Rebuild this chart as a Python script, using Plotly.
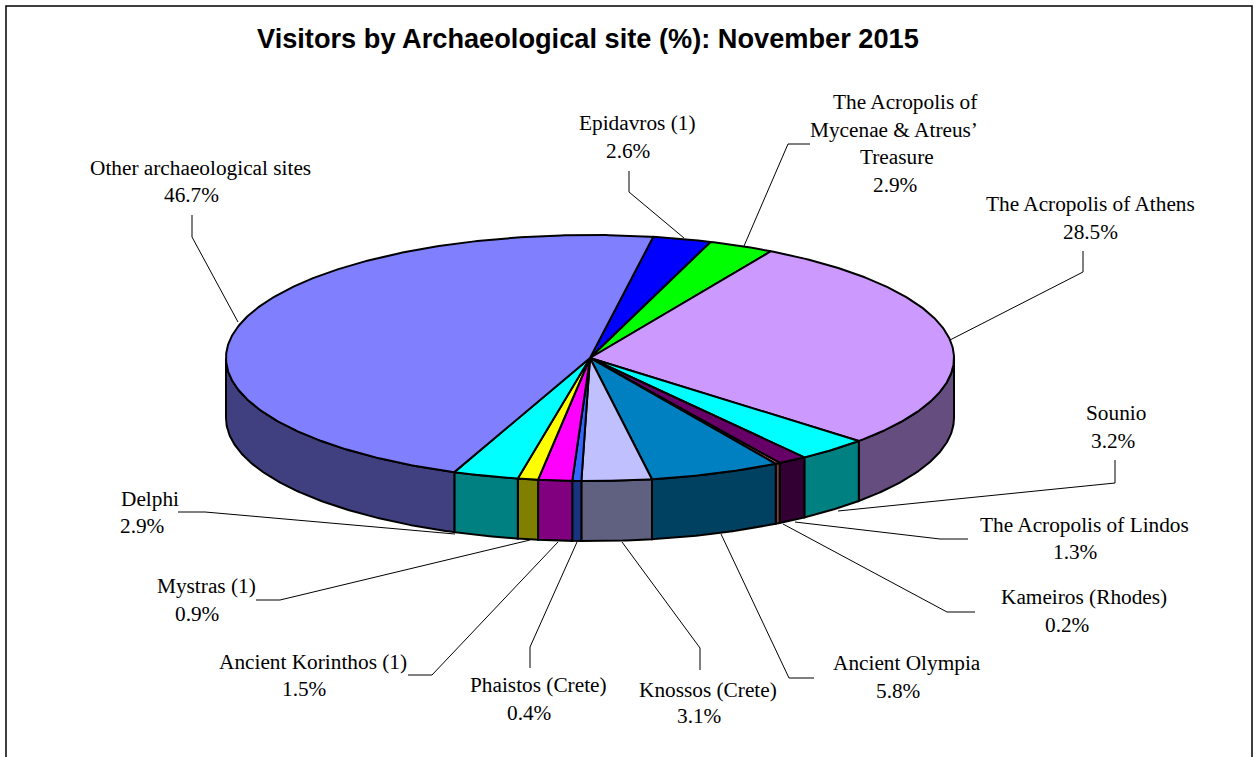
import numpy as np
import plotly.graph_objects as go

# ---- data ----
sites = ["Epidavros (1)", "The Acropolis of Mycenae & Atreus’ Treasure", "The Acropolis of Athens",
         "Sounio", "The Acropolis of Lindos", "Kameiros (Rhodes)", "Ancient Olympia",
         "Knossos (Crete)", "Phaistos (Crete)", "Ancient Korinthos (1)", "Mystras (1)",
         "Delphi", "Other archaeological sites"]
shares = [2.6, 2.9, 28.5, 3.2, 1.3, 0.2, 5.8, 3.1, 0.4, 1.5, 0.9, 2.9, 46.7]
top_colors = ["#0000FF", "#00FF00", "#CC99FF", "#00FFFF", "#660066", "#FF8080", "#0080C0",
              "#C0C0FF", "#3366FF", "#FF00FF", "#FFFF00", "#00FFFF", "#8080FF"]
side_colors = ["#000080", "#008000", "#664D80", "#008080", "#330033", "#804040", "#004060",
               "#606080", "#1A3380", "#800080", "#808000", "#008080", "#404080"]
title_text = "Visitors by Archaeological site (%): November 2015"

# ---- geometry / layout of the drawing ----
W, H = 1258, 757
CX, CY, RX, RY, DEPTH = 590, 358, 364, 123, 60
START_DEG = 10.0

label_lines = [
    [("Epidavros (1)", 637, 123), ("2.6%", 628, 151)],
    [("The Acropolis of", 905, 102), ("Mycenae & Atreus’", 894, 130), ("Treasure", 897, 157), ("2.9%", 895, 185)],
    [("The Acropolis of Athens", 1090, 204), ("28.5%", 1090, 232)],
    [("Sounio", 1116, 413), ("3.2%", 1113, 441)],
    [("The Acropolis of Lindos", 1084, 525), ("1.3%", 1075, 552)],
    [("Kameiros (Rhodes)", 1084, 597), ("0.2%", 1067, 625)],
    [("Ancient Olympia", 907, 663), ("5.8%", 898, 691)],
    [("Knossos (Crete)", 708, 690), ("3.1%", 699, 716)],
    [("Phaistos (Crete)", 538, 685), ("0.4%", 529, 713)],
    [("Ancient Korinthos (1)", 313, 662), ("1.5%", 304, 689)],
    [("Mystras (1)", 206, 586), ("0.9%", 197, 614)],
    [("Delphi", 150, 499), ("2.9%", 142, 526)],
    [("Other archaeological sites", 200, 168), ("46.7%", 191, 195)],
]
leaders = [
    [(629, 171), (629, 192), (684, 238)],
    [(810, 144), (788, 144), (744, 246)],
    [(1083, 251), (1083, 272), (950, 340)],
    [(1115, 460), (1115, 483), (838, 511)],
    [(968, 539), (940, 539), (795, 522)],
    [(975, 612), (947, 612), (783, 524)],
    [(814, 678), (789, 678), (721, 534)],
    [(700, 670), (700, 648), (622, 542)],
    [(530, 668), (530, 647), (577, 542)],
    [(408, 675), (432, 675), (558, 542)],
    [(256, 600), (280, 600), (530, 540)],
    [(178, 512), (205, 512), (455, 534)],
    [(192, 215), (192, 237), (238, 322)],
]


def rim(a, b):
    t = np.radians(np.linspace(a, b, max(2, int(abs(b - a) * 2) + 1)))
    return CX + RX * np.sin(t), CY - RY * np.cos(t)


fig = go.Figure()
edges = START_DEG + np.concatenate([[0], np.cumsum(shares)]) * 3.6

# visible walls
for i, col in enumerate(side_colors):
    a, b = max(edges[i], 90), min(edges[i + 1], 270)
    if a < b:
        x, y = rim(a, b)
        fig.add_trace(go.Scatter(
            x=np.concatenate([x, x[::-1], x[:1]]),
            y=np.concatenate([y, y[::-1] + DEPTH, y[:1]]),
            mode="lines", fill="toself", fillcolor=col,
            line=dict(color="black", width=2), hoverinfo="skip", showlegend=False))

# top faces
for i, col in enumerate(top_colors):
    x, y = rim(edges[i], edges[i + 1])
    fig.add_trace(go.Scatter(
        x=np.concatenate([[CX], x, [CX]]),
        y=np.concatenate([[CY], y, [CY]]),
        mode="lines", fill="toself", fillcolor=col,
        line=dict(color="black", width=2), name=sites[i],
        text=f"{sites[i]}: {shares[i]}%", hoverinfo="text", showlegend=False))

# leader lines
for pts in leaders:
    fig.add_trace(go.Scatter(
        x=[p[0] for p in pts], y=[p[1] for p in pts], mode="lines",
        line=dict(color="black", width=1), hoverinfo="skip", showlegend=False))

annotations = []
for lines in label_lines:
    for txt, x, y in lines:
        annotations.append(dict(x=x, y=y, xref="x", yref="y", text=txt, showarrow=False,
                                xanchor="center", yanchor="middle",
                                font=dict(family="Liberation Serif", size=21.3, color="black")))
annotations.append(dict(x=588, y=38, xref="x", yref="y", text=f"<b>{title_text}</b>", showarrow=False,
                        xanchor="center", yanchor="middle",
                        font=dict(family="Liberation Sans", size=27.2, color="black")))

fig.update_layout(
    width=W, height=H, autosize=False, margin=dict(l=0, r=0, t=0, b=0),
    paper_bgcolor="white", plot_bgcolor="white", showlegend=False,
    xaxis=dict(range=[0, W], visible=False, fixedrange=True),
    yaxis=dict(range=[H, 0], visible=False, fixedrange=True),
    annotations=annotations,
    shapes=[dict(type="rect", xref="x", yref="y", x0=6, y0=6, x1=1252, y1=H + 20,
                 line=dict(color="black", width=1.5), layer="below")],
)
fig.write_html("out.html", config={"displayModeBar": False},
               post_script="document.body.style.margin='0';document.body.style.overflow='hidden';")
